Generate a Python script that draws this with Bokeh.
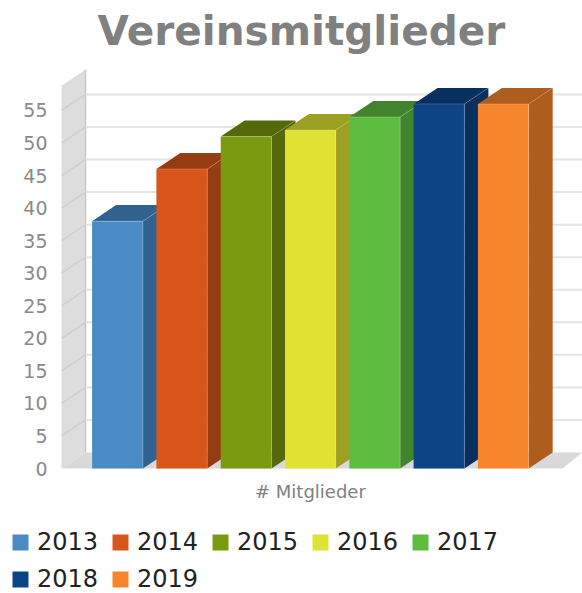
from bokeh.plotting import figure
from bokeh.models import (Legend, LegendItem, Range1d)
from bokeh.core.properties import value
from bokeh.embed import file_html
from bokeh.resources import INLINE

years = ["2013", "2014", "2015", "2016", "2017", "2018", "2019"]
members = [38, 46, 51, 52, 54, 56, 56]
front_colors = ["#4a8bc6", "#d8561c", "#7a9a10", "#dfe232", "#5ebd41", "#0c4485", "#f7852b"]
dark_colors = ["#31628f", "#963c13", "#55690a", "#9ca023", "#42842e", "#082f5d", "#ad5d1e"]
y_ticks = list(range(0, 60, 5))
category_label = "# Mitglieder"
chart_title = "Vereinsmitglieder"

FX0, FX1 = -1.8196, 7.2317
FY0, FY1 = -19.2, 71.89
X0, X1 = -0.87, 7.23
WALL_TOP = 58.8
DX, DY = 0.373, 2.46
BAR = 0.395
XC = 3.0
TICK_X = -1.0887
LABEL_Y = -3.53
TITLE_X, TITLE_Y = -0.311, 67.28

p = figure(width=582, height=593, output_backend="svg", toolbar_location=None,
           x_range=Range1d(FX0, FX1), y_range=Range1d(FY0, FY1),
           min_border_left=0, min_border_right=0, min_border_top=0, min_border_bottom=0,
           x_axis_location=None, y_axis_location=None)
p.outline_line_color = None
p.grid.visible = False

p.text(x=[TITLE_X], y=[TITLE_Y], text=[chart_title], text_align="left", text_baseline="alphabetic",
       text_font=value("DejaVu Sans"), text_font_size="40.6px", text_font_style="bold",
       text_color="#808080")

# walls and floor
p.patch([X0, X0 + DX, X0 + DX, X0], [0, DY, WALL_TOP + DY, WALL_TOP],
        fill_color="#dddddd", line_color=None)
p.patch([X0, X0 + DX, X1, X1 - DX * 0.83], [0, DY, DY, 0], fill_color="#d9d9d9", line_color=None)
p.segment([X0 + DX], [DY], [X0 + DX], [WALL_TOP + DY], line_color="#c8c8c8", line_width=1.5)

# grid
grid = y_ticks[1:]
p.segment([X0 + DX] * len(grid), [v + DY for v in grid], [X1] * len(grid), [v + DY for v in grid],
          line_color="#e4e4e4", line_width=2)
p.segment([X0] * len(grid), grid, [X0 + DX] * len(grid), [v + DY for v in grid],
          line_color="#cfcfcf", line_width=1.5)

# bars
items = []
for i, (yr, v, fc, dc) in enumerate(zip(years, members, front_colors, dark_colors)):
    l, r = i - BAR, i + BAR
    p.patch([l, l + DX, r + DX, r], [v, v + DY, v + DY, v], fill_color=dc, line_color=None)
    p.patch([r, r + DX, r + DX, r], [0, DY, v + DY, v], fill_color=dc, line_color=None)
    bar = p.vbar(x=[i], top=[v], width=2 * BAR, bottom=0, fill_color=fc, line_color=None)
    p.line([r, r], [0, v], line_color="white", line_alpha=0.2, line_width=1)
    p.line([l, r], [v, v], line_color="white", line_alpha=0.2, line_width=1)
    p.line([r, r + DX], [v, v + DY], line_color="white", line_alpha=0.15, line_width=1)
    items.append(LegendItem(label=yr, renderers=[bar]))

# axis texts
p.text(x=[TICK_X] * len(y_ticks), y=y_ticks, text=[str(t) for t in y_ticks],
       text_align="right", text_baseline="middle", text_font=value("DejaVu Sans"),
       text_font_size="19px", text_color="#8a8a8a")
p.text(x=[XC], y=[LABEL_Y], text=[category_label], text_align="center", text_baseline="middle",
       text_font=value("DejaVu Sans"), text_font_size="18px", text_color="#808080")

legend_style = dict(orientation="horizontal", glyph_width=20, glyph_height=20, label_standoff=7,
                    spacing=10, label_width=63, label_height=24, label_text_font="DejaVu Sans",
                    label_text_font_size="24px", label_text_color="#222222", padding=0, margin=0,
                    border_line_color=None, background_fill_alpha=0)
p.add_layout(Legend(items=items[:5], location=(10, 37), **legend_style), "center")
p.add_layout(Legend(items=items[5:], location=(10, 0), **legend_style), "center")

open("out.html", "w").write(file_html(p, INLINE))
